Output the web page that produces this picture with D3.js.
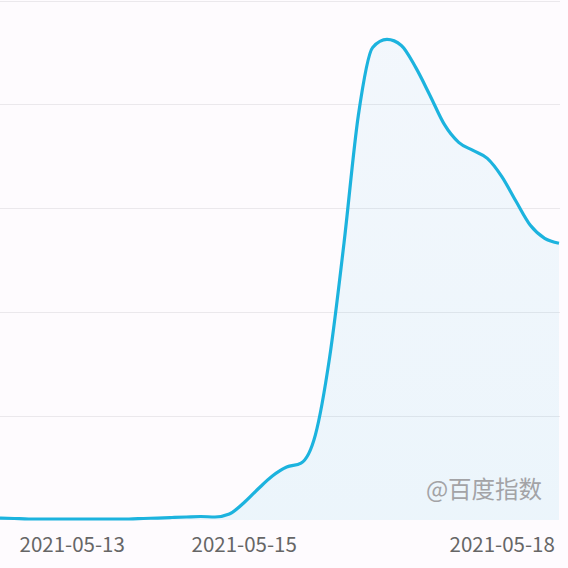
<!DOCTYPE html>
<html>
<head>
<meta charset="utf-8">
<script src="https://cdn.jsdelivr.net/npm/d3@7"></script>
<style>
  html, body { margin: 0; padding: 0; background: #fefbfe; }
  svg { display: block; }
</style>
</head>
<body>
<svg id="viz"></svg>
<script>
// 4-hourly index, 2021-05-12 04:00 .. 2021-05-18 16:00
const startTime = new Date(2021, 4, 12, 4);
const endTime = new Date(2021, 4, 18, 16);
const values = [
  38, 29, 19, 19, 19, 19, 19, 19, 19, 19,
  29, 38, 48, 58, 67, 58, 115, 327, 596, 846,
  1019, 1096, 1635, 3135, 5330, 7788, 9096, 9250, 9135, 8712,
  8173, 7615, 7270, 7115, 6962, 6615, 6135, 5673, 5423, 5327
];
const tickDates = ["2021-05-13", "2021-05-15", "2021-05-18"];
const gridValues = [0, 2000, 4000, 6000, 8000, 10000];
const watermark = "@百度指数";

const width = 568, height = 568;
const plot = { left: 0, right: 560, top: 0, bottom: 520 };

const times = d3.timeHours(startTime, d3.timeHour.offset(endTime, 1), 4);
const data = times.map((t, i) => ({ t, v: values[i] }));

const svg = d3.select("#viz").attr("width", width).attr("height", height);

const x = d3.scaleTime().domain([startTime, endTime]).range([0, 559]);
const y = d3.scaleLinear().domain([0, 10000]).range([plot.bottom, plot.top + 0.5]);

// gridlines
svg.append("g")
  .selectAll("line")
  .data(gridValues.slice(1))
  .enter()
  .append("line")
  .attr("x1", plot.left)
  .attr("x2", plot.right)
  .attr("y1", (d) => Math.round(y(d)) + 0.5)
  .attr("y2", (d) => Math.round(y(d)) + 0.5)
  .attr("stroke", "#ebe8ec")
  .attr("stroke-width", 1);

// area gradient
const defs = svg.append("defs");
const grad = defs.append("linearGradient")
  .attr("id", "fillGrad")
  .attr("x1", 0).attr("y1", 0).attr("x2", 0).attr("y2", 1);
grad.append("stop").attr("offset", "0%").attr("stop-color", "#1ab0dd").attr("stop-opacity", 0.05);
grad.append("stop").attr("offset", "100%").attr("stop-color", "#1ab0dd").attr("stop-opacity", 0.08);

const area = d3.area()
  .x((d) => x(d.t))
  .y0(plot.bottom)
  .y1((d) => y(d.v))
  .curve(d3.curveMonotoneX);

const line = d3.line()
  .x((d) => x(d.t))
  .y((d) => y(d.v))
  .curve(d3.curveMonotoneX);

svg.append("path")
  .datum(data)
  .attr("d", area)
  .attr("fill", "url(#fillGrad)");

svg.append("path")
  .datum(data)
  .attr("d", line)
  .attr("fill", "none")
  .attr("stroke", "#1cb3de")
  .attr("stroke-width", 3.2)
  .attr("stroke-linejoin", "round");

// x axis labels
const parse = d3.timeParse("%Y-%m-%d");
const xAxis = d3.axisBottom(x)
  .tickValues(tickDates.map(parse))
  .tickFormat(d3.timeFormat("%Y-%m-%d"))
  .tickSize(0)
  .tickPadding(0);

const ax = svg.append("g")
  .attr("transform", `translate(0, ${plot.bottom})`)
  .call(xAxis);
ax.select(".domain").remove();
ax.selectAll("text")
  .attr("dy", null)
  .attr("y", 32)
  .attr("fill", "#666")
  .style("font-family", "'Noto Sans CJK SC', 'Noto Sans', sans-serif")
  .style("font-size", "20.5px");

// watermark
svg.append("text")
  .attr("x", 484)
  .attr("y", 498)
  .attr("text-anchor", "middle")
  .attr("fill", "#a3a3a6")
  .style("font-family", "'Noto Sans CJK SC', sans-serif")
  .style("font-size", "23.5px")
  .text(watermark);
</script>
</body>
</html>
